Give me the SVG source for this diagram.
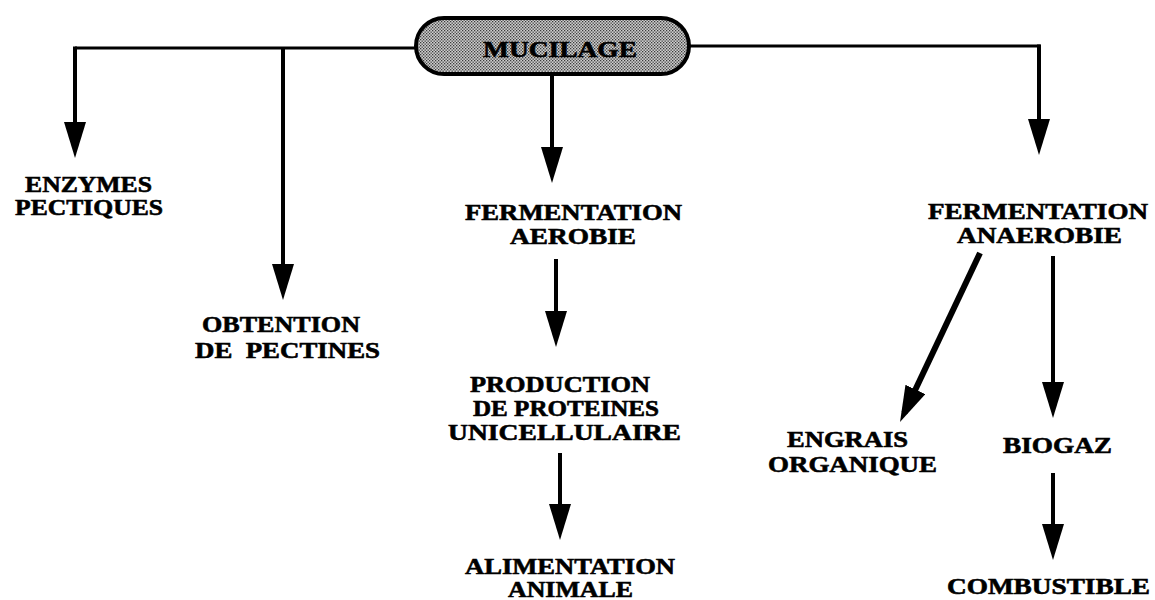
<svg xmlns="http://www.w3.org/2000/svg" width="1155" height="600" viewBox="0 0 1155 600">
<style>
.t{font-family:"Liberation Serif","Times New Roman",serif;font-weight:bold;font-size:23px;fill:#000;stroke:#000;stroke-width:0.6;white-space:pre}
.c{fill:none;stroke:#000;stroke-width:4;stroke-linejoin:miter}
.h{stroke-width:3}
</style>
<defs>
<pattern id="stip" width="3" height="3" patternUnits="userSpaceOnUse">
<rect width="3" height="3" fill="#cfcfcf"/>
<rect x="0" y="0" width="1.3" height="1.3" fill="#3a3a3a"/>
<rect x="1.5" y="1.5" width="1.3" height="1.3" fill="#3a3a3a"/>
</pattern>
<marker id="ah" markerUnits="userSpaceOnUse" markerWidth="40" markerHeight="24" refX="26" refY="11" orient="auto" viewBox="0 0 40 24">
<path d="M0,0 L36,11 L0,22 z" fill="#000"/>
</marker>
</defs>
<rect width="1155" height="600" fill="#fff"/>
<g id="connectors">
<path class="c h" d="M415,48 H75" />
<path class="c" d="M75,46.5 V148" marker-end="url(#ah)"/>
<path class="c" d="M283,48 V290" marker-end="url(#ah)"/>
<path class="c" d="M552,75 V173" marker-end="url(#ah)"/>
<path class="c h" d="M690,46 H1040.5"/>
<path class="c" d="M1039,44.5 V145" marker-end="url(#ah)"/>
<path class="c" d="M556,259 V337" marker-end="url(#ah)"/>
<path class="c" d="M560,453 V530" marker-end="url(#ah)"/>
<path class="c" style="stroke-width:6" d="M980,253 L904.3,413" marker-end="url(#ah)"/>
<path class="c" d="M1053,256 V408" marker-end="url(#ah)"/>
<path class="c" d="M1053,473 V550" marker-end="url(#ah)"/>
</g>
<g id="mucilage">
<rect x="416" y="18" width="273" height="56" rx="28" ry="28" fill="url(#stip)" stroke="#000" stroke-width="4"/>
<text class="t" x="483" y="57" textLength="154" lengthAdjust="spacingAndGlyphs">MUCILAGE</text>
</g>
<g id="enzymes">
<text class="t" x="25" y="192" textLength="127" lengthAdjust="spacingAndGlyphs">ENZYMES</text>
<text class="t" x="15" y="215" textLength="148" lengthAdjust="spacingAndGlyphs">PECTIQUES</text>
</g>
<g id="obtention">
<text class="t" x="202" y="332" textLength="158" lengthAdjust="spacingAndGlyphs">OBTENTION</text>
<text class="t" x="195" y="358" textLength="185" lengthAdjust="spacingAndGlyphs">DE  PECTINES</text>
</g>
<g id="fermentation-aerobie">
<text class="t" x="465" y="220" textLength="217" lengthAdjust="spacingAndGlyphs">FERMENTATION</text>
<text class="t" x="510" y="244" textLength="126" lengthAdjust="spacingAndGlyphs">AEROBIE</text>
</g>
<g id="production">
<text class="t" x="470" y="392" textLength="180" lengthAdjust="spacingAndGlyphs">PRODUCTION</text>
<text class="t" x="473" y="416" textLength="186" lengthAdjust="spacingAndGlyphs">DE PROTEINES</text>
<text class="t" x="448" y="440" textLength="233" lengthAdjust="spacingAndGlyphs">UNICELLULAIRE</text>
</g>
<g id="alimentation">
<text class="t" x="465" y="574" textLength="210" lengthAdjust="spacingAndGlyphs">ALIMENTATION</text>
<text class="t" x="508" y="597" textLength="125" lengthAdjust="spacingAndGlyphs">ANIMALE</text>
</g>
<g id="fermentation-anaerobie">
<text class="t" x="928" y="219" textLength="220" lengthAdjust="spacingAndGlyphs">FERMENTATION</text>
<text class="t" x="957" y="243" textLength="165" lengthAdjust="spacingAndGlyphs">ANAEROBIE</text>
</g>
<g id="engrais">
<text class="t" x="787" y="447" textLength="121" lengthAdjust="spacingAndGlyphs">ENGRAIS</text>
<text class="t" x="768" y="472" textLength="169" lengthAdjust="spacingAndGlyphs">ORGANIQUE</text>
</g>
<g id="biogaz">
<text class="t" x="1003" y="453" textLength="109" lengthAdjust="spacingAndGlyphs">BIOGAZ</text>
</g>
<g id="combustible">
<text class="t" x="947" y="594" textLength="203" lengthAdjust="spacingAndGlyphs">COMBUSTIBLE</text>
</g>
</svg>
